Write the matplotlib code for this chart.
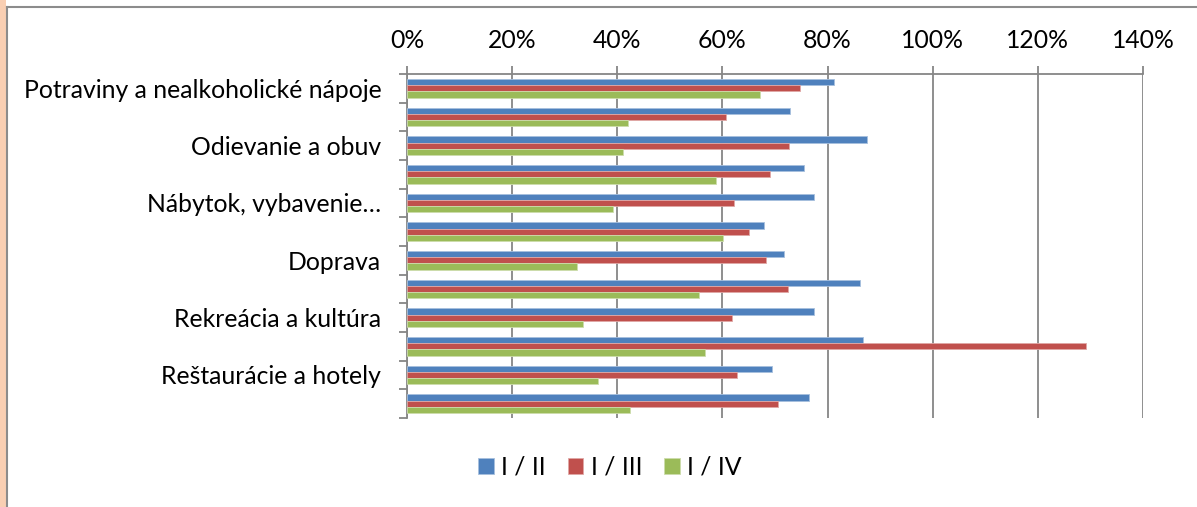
import matplotlib
matplotlib.use("Agg")
import matplotlib.pyplot as plt
from matplotlib.patches import Rectangle
from matplotlib.lines import Line2D
from matplotlib.ticker import FuncFormatter, FixedLocator
import numpy as np

# Spending groups (COICOP), top to bottom
categories = [
    "Potraviny a nealkoholické nápoje",
    "Alkoholické nápoje a tabak",
    "Odievanie a obuv",
    "Bývanie, voda, elektrina, plyn",
    "Nábytok, vybavenie domácnosti",
    "Zdravie",
    "Doprava",
    "Pošty a telekomunikácie",
    "Rekreácia a kultúra",
    "Vzdelávanie",
    "Reštaurácie a hotely",
    "Rozličné tovary a služby",
]
# Labels that fit on the category axis (every second group)
tick_labels = [
    "Potraviny a nealkoholické nápoje",
    "Odievanie a obuv",
    "Nábytok, vybavenie…",
    "Doprava",
    "Rekreácia a kultúra",
    "Reštaurácie a hotely",
]

series_names = ["I / II", "I / III", "I / IV"]
ratio_I_II = [0.812, 0.728, 0.875, 0.755, 0.774, 0.679, 0.717, 0.862, 0.774, 0.868, 0.695, 0.764]
ratio_I_III = [0.747, 0.606, 0.726, 0.691, 0.622, 0.650, 0.682, 0.725, 0.619, 1.292, 0.627, 0.705]
ratio_I_IV = [0.671, 0.421, 0.410, 0.588, 0.392, 0.601, 0.323, 0.556, 0.335, 0.567, 0.364, 0.425]

colors = ["#4F81BD", "#C0504D", "#9BBB59"]
edge_colors = ["#A7C0DE", "#E0A8A6", "#CDDDAC"]

W, H = 1197, 507
fig = plt.figure(figsize=(W / 100, H / 100), dpi=100)
fig.patch.set_facecolor("white")

FONT = "Lato"
FS = 17.8
plt.rcParams["font.family"] = [FONT, "DejaVu Sans"]

# decorative strip and frame of the chart area
fig.add_artist(Rectangle((0, 0), 6 / W, 1, transform=fig.transFigure,
                         facecolor="#F9CFB3", edgecolor="none", zorder=0))
fig.add_artist(Line2D([6.5 / W, 6.5 / W], [0, 1 - 7 / H], transform=fig.transFigure,
                      color="#8C8C8C", lw=1.5))
fig.add_artist(Line2D([6.5 / W, 1], [1 - 7 / H, 1 - 7 / H], transform=fig.transFigure,
                      color="#8C8C8C", lw=1.5))

left, right, top, bottom = 407, 1143, 74, 418
ax = fig.add_axes([left / W, 1 - bottom / H, (right - left) / W, (bottom - top) / H])
ax.set_facecolor("none")

n = len(categories)
centers = np.arange(n) + 0.5
bh = 0.22
offsets = [-bh, 0.0, bh]
for vals, off, c, ec, name in zip([ratio_I_II, ratio_I_III, ratio_I_IV], offsets,
                                  colors, edge_colors, series_names):
    ax.barh(centers + off, vals, height=bh, color=c, edgecolor=ec, linewidth=0.6,
            label=name, zorder=3)

ax.set_xlim(0, 1.4)
ax.set_ylim(n, 0)

grid_c = "#868686"
ax.xaxis.set_major_locator(FixedLocator(np.arange(0, 1.41, 0.2)))
ax.xaxis.set_major_formatter(FuncFormatter(lambda v, p: f"{v * 100:.0f}%"))
ax.xaxis.tick_top()
ax.tick_params(axis="x", which="major", direction="out", length=6, width=1.3,
               color=grid_c, labelsize=FS, pad=10)
ax.grid(axis="x", color=grid_c, linewidth=1.3, zorder=0)

# category boundaries as major ticks, labels on every second group centre
ax.yaxis.set_major_locator(FixedLocator(np.arange(0, n + 1)))
ax.yaxis.set_major_formatter(FuncFormatter(lambda v, p: ""))
ax.yaxis.set_minor_locator(FixedLocator(centers[::2]))
ax.set_yticklabels(tick_labels, minor=True)
ax.tick_params(axis="y", which="major", direction="out", length=6, width=1.3, color=grid_c)
ax.tick_params(axis="y", which="minor", length=0, labelsize=FS, pad=18.5)

for s in ["right", "bottom"]:
    ax.spines[s].set_visible(False)
for s in ["left", "top"]:
    ax.spines[s].set_color(grid_c)
    ax.spines[s].set_linewidth(1.3)

for t in ax.get_xticklabels() + ax.get_yticklabels(minor=True):
    t.set_color("black")

handles, labels = ax.get_legend_handles_labels()
fig.legend(handles, labels, loc="center", bbox_to_anchor=(610 / W, 1 - 467 / H),
           ncol=3, frameon=False, fontsize=FS, handlelength=0.62, handleheight=0.62,
           handletextpad=0.3, columnspacing=0.9)

fig.savefig("out.png", dpi=100, facecolor="white")
